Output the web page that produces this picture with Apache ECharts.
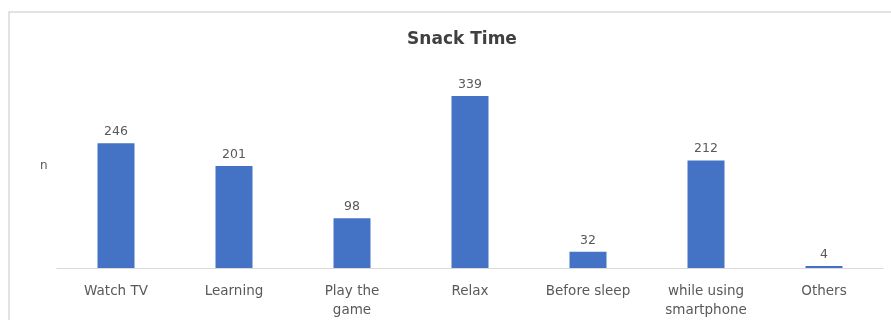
<!DOCTYPE html>
<html>
<head>
<meta charset="utf-8">
<script src="https://cdn.jsdelivr.net/npm/echarts@6/dist/echarts.min.js"></script>
<style>html,body{margin:0;padding:0;background:#fff}#c{width:891px;height:320px}</style>
</head>
<body>
<div id="c"></div>
<script>
const categories = ["Watch TV", "Learning", "Play the\ngame", "Relax", "Before sleep", "while using\nsmartphone", "Others"];
const values = [246, 201, 98, 339, 32, 212, 4];
const titleText = "Snack Time";
const yName = "n";

const chart = echarts.init(document.getElementById('c'), null, {renderer: 'canvas'});
const font = "'DejaVu Sans', sans-serif";
chart.setOption({
  animation: false,
  backgroundColor: '#fff',
  title: {
    text: titleText, left: 457, top: 26, textAlign: 'center',
    textStyle: {fontFamily: font, fontSize: 17, fontWeight: 'bold', color: '#404040'}
  },
  graphic: [
    {type: 'rect', shape: {x: 9, y: 12, width: 900, height: 330}, style: {fill: 'none', stroke: '#d9d9d9', lineWidth: 1.5}, silent: true},
    {type: 'text', left: 40, top: 160, style: {text: yName, fontFamily: font, fontSize: 12, fill: '#595959'}}
  ],
  grid: {left: 57, right: 8, top: 65, bottom: 51, containLabel: false},
  xAxis: {
    type: 'category', data: categories,
    axisLine: {lineStyle: {color: '#d9d9d9', width: 1}},
    axisTick: {show: false},
    axisLabel: {fontFamily: font, fontSize: 13.5, color: '#595959', margin: 14, lineHeight: 19, interval: 0}
  },
  yAxis: {
    type: 'value', min: 0, max: 400,
    show: false
  },
  series: [{
    type: 'bar', data: values, barWidth: 37,
    itemStyle: {color: '#4472C4'},
    label: {show: true, position: 'top', distance: 5, fontFamily: font, fontSize: 12.5, color: '#595959'}
  }]
});
</script>
</body>
</html>
